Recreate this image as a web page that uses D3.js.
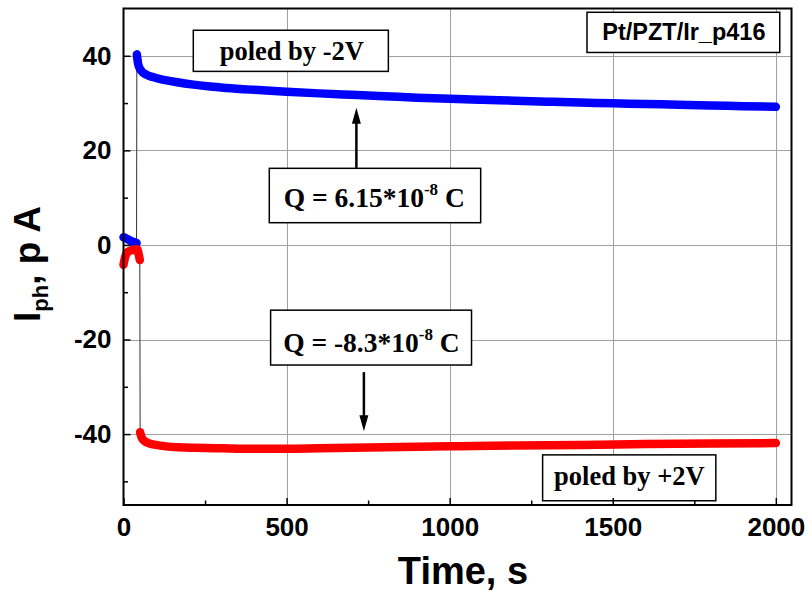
<!DOCTYPE html>
<html>
<head>
<meta charset="utf-8">
<script src="https://cdn.jsdelivr.net/npm/d3@7"></script>
<style>
  html, body { margin: 0; padding: 0; background: #fff; }
  svg { display: block; }
</style>
</head>
<body>
<svg id="chart" width="810" height="591"></svg>
<script>
// Photocurrent transients after poling, Pt/PZT/Ir_p416
const blueTime = [0, 8, 16, 24, 32, 40, 41, 44, 48, 55, 70, 90, 110, 140, 165, 215, 265, 315, 400, 500, 600, 700, 800, 900, 1000, 1100, 1200, 1300, 1400, 1500, 1600, 1700, 1800, 1900, 2000];
const blueCurrent = [1.6, 1.4, 1.1, 0.8, 0.6, 0.4, 40.3, 38.6, 37.6, 36.8, 36.0, 35.5, 35.1, 34.7, 34.4, 33.9, 33.5, 33.2, 32.8, 32.4, 32.05, 31.75, 31.45, 31.15, 30.9, 30.7, 30.5, 30.3, 30.1, 29.95, 29.8, 29.65, 29.5, 29.35, 29.2];

const redTime = [0, 5, 10, 18, 26, 34, 42, 46, 50, 51, 54, 58, 65, 80, 100, 130, 170, 220, 300, 400, 500, 600, 700, 800, 1000, 1200, 1400, 1600, 1800, 2000];
const redCurrent = [-4.2, -2.6, -1.7, -1.3, -1.1, -1.0, -0.9, -1.8, -3.2, -39.6, -40.4, -41.0, -41.5, -42.0, -42.3, -42.6, -42.8, -42.9, -43.0, -43.1, -43.1, -43.0, -42.9, -42.8, -42.6, -42.4, -42.3, -42.1, -42.0, -41.9];

const xMajorTicks = [0, 500, 1000, 1500, 2000];
const xMinorTicks = [250, 750, 1250, 1750];
const yMajorTicks = [-40, -20, 0, 20, 40];
const yMinorTicks = [-50, -30, -10, 10, 30];

const sampleLabel = "Pt/PZT/Ir_p416";
const xTitle = "Time, s";

const svg = d3.select("#chart");
const plotL = 123.5, plotR = 791.5, plotT = 8.5, plotB = 505;

const x = d3.scaleLinear().domain([0, 2048]).range([plotL, plotR]);
const y = d3.scaleLinear().domain([-55, 50]).range([plotB, plotT]);

const sans = "'Liberation Sans', Arial, sans-serif";
const serif = "'Liberation Serif', 'Times New Roman', serif";

// grid
const grid = svg.append("g").attr("stroke", "#a0a0a0").attr("stroke-width", 1);
grid.selectAll("line.gx").data(xMajorTicks.filter(d => d > 0)).join("line")
  .attr("x1", d => Math.round(x(d)) + 0.5).attr("x2", d => Math.round(x(d)) + 0.5)
  .attr("y1", plotT).attr("y2", plotB);
grid.selectAll("line.gy").data(yMajorTicks).join("line")
  .attr("y1", d => Math.round(y(d)) + 0.5).attr("y2", d => Math.round(y(d)) + 0.5)
  .attr("x1", plotL).attr("x2", plotR);

// series: thin connecting line plus dense symbol band
function series(time, values, color) {
  const pts = time.map((t, i) => [t, values[i]]);
  // split where the current jumps on switching
  const segs = [[pts[0]]];
  for (let i = 1; i < pts.length; i++) {
    if (Math.abs(pts[i][1] - pts[i - 1][1]) > 10) segs.push([]);
    segs[segs.length - 1].push(pts[i]);
  }
  const line = d3.line().x(d => x(d[0])).y(d => y(d[1])).curve(d3.curveMonotoneX);
  const thin = d3.line().x(d => x(d[0])).y(d => y(d[1]));
  svg.append("path").attr("d", thin(pts)).attr("fill", "none")
    .attr("stroke", "#333").attr("stroke-width", 1);
  segs.forEach(s => {
    svg.append("path").attr("d", line(s)).attr("fill", "none")
      .attr("stroke", color).attr("stroke-width", 8.5)
      .attr("stroke-linecap", "round").attr("stroke-linejoin", "round");
  });
}
series(blueTime, blueCurrent, "#0000ff");
series(redTime, redCurrent, "#ff0000");

// annotation boxes (data units)
function box(x0, x1, y0, y1) {
  svg.append("rect")
    .attr("x", x(x0)).attr("y", y(y0))
    .attr("width", x(x1) - x(x0)).attr("height", y(y1) - y(y0))
    .attr("fill", "#fff").attr("stroke", "#000").attr("stroke-width", 1.5);
}
function arrow(t, v0, v1) {
  const xp = x(t), ya = y(v0), yb = y(v1);
  const dir = Math.sign(yb - ya);
  svg.append("line").attr("x1", xp).attr("x2", xp).attr("y1", ya).attr("y2", yb - dir * 12)
    .attr("stroke", "#000").attr("stroke-width", 2.5);
  svg.append("path")
    .attr("d", `M${xp},${yb} L${xp - 4.5},${yb - dir * 16} L${xp + 4.5},${yb - dir * 16} Z`)
    .attr("fill", "#000");
}

box(214, 812, 45.4, 36.7);
svg.append("text").attr("x", x(516)).attr("y", y(39.2)).attr("text-anchor", "middle")
  .attr("font-family", serif).attr("font-weight", "bold").attr("font-size", 26.5)
  .text("poled by -2V");

box(1421, 2012, 49.2, 40.7);
svg.append("text").attr("x", x(1718)).attr("y", y(43.3)).attr("text-anchor", "middle")
  .attr("font-family", sans).attr("font-weight", "bold").attr("font-size", 23.5)
  .text(sampleLabel);

function chargeLabel(tc, vb, mant) {
  const t = svg.append("text").attr("x", x(tc)).attr("y", y(vb)).attr("text-anchor", "middle")
    .attr("font-family", serif).attr("font-weight", "bold").attr("font-size", 27.5);
  t.append("tspan").text("Q = " + mant + "*10");
  t.append("tspan").attr("font-size", 17).attr("dy", -12).text("-8");
  t.append("tspan").attr("dy", 12).text(" C");
}

arrow(714, 16.3, 29.0);
box(447, 1095, 16.2, 4.7);
chargeLabel(769, 8.1, "6.15");

arrow(737, -26.9, -39.4);
box(451, 1067, -13.8, -25.4);
chargeLabel(760, -22.6, "-8.3");

box(1285, 1816, -44.4, -54.1);
svg.append("text").attr("x", x(1551)).attr("y", y(-50.8)).attr("text-anchor", "middle")
  .attr("font-family", serif).attr("font-weight", "bold").attr("font-size", 26.5)
  .text("poled by +2V");

// axes, ticks pointing inward
const fmt = d => String(d);
const xAxis = svg.append("g").attr("transform", `translate(0,${plotB})`)
  .call(d3.axisBottom(x).tickValues(xMajorTicks).tickSizeInner(-7).tickSizeOuter(0).tickPadding(13).tickFormat(fmt));
svg.append("g").attr("transform", `translate(0,${plotB})`)
  .call(d3.axisBottom(x).tickValues(xMinorTicks).tickSizeInner(-4.5).tickSizeOuter(0).tickFormat(""));
const yAxis = svg.append("g").attr("transform", `translate(${plotL},0)`)
  .call(d3.axisLeft(y).tickValues(yMajorTicks).tickSizeInner(-7).tickSizeOuter(0).tickPadding(12).tickFormat(fmt));
svg.append("g").attr("transform", `translate(${plotL},0)`)
  .call(d3.axisLeft(y).tickValues(yMinorTicks).tickSizeInner(-4.5).tickSizeOuter(0).tickFormat(""));

svg.selectAll(".tick line").attr("stroke", "#000").attr("stroke-width", 1.5);
svg.selectAll(".domain").remove();
svg.selectAll(".tick text").attr("font-family", sans).attr("font-weight", "bold")
  .attr("font-size", 26).attr("fill", "#000");
xAxis.selectAll(".tick text").attr("dy", "0.71em");

// frame
svg.append("rect").attr("x", plotL).attr("y", plotT).attr("width", plotR - plotL).attr("height", plotB - plotT)
  .attr("fill", "none").attr("stroke", "#000").attr("stroke-width", 2);

// axis titles
svg.append("text").attr("x", 463).attr("y", 584).attr("text-anchor", "middle")
  .attr("font-family", sans).attr("font-weight", "bold").attr("font-size", 38)
  .text(xTitle);

const yt = svg.append("text").attr("transform", "translate(40,264) rotate(-90)")
  .attr("text-anchor", "middle").attr("font-family", sans).attr("font-weight", "bold").attr("font-size", 37);
yt.append("tspan").text("I");
yt.append("tspan").attr("font-size", 22).attr("dy", 8).text("ph");
yt.append("tspan").attr("dy", -8).text(",  p A");
</script>
</body>
</html>
